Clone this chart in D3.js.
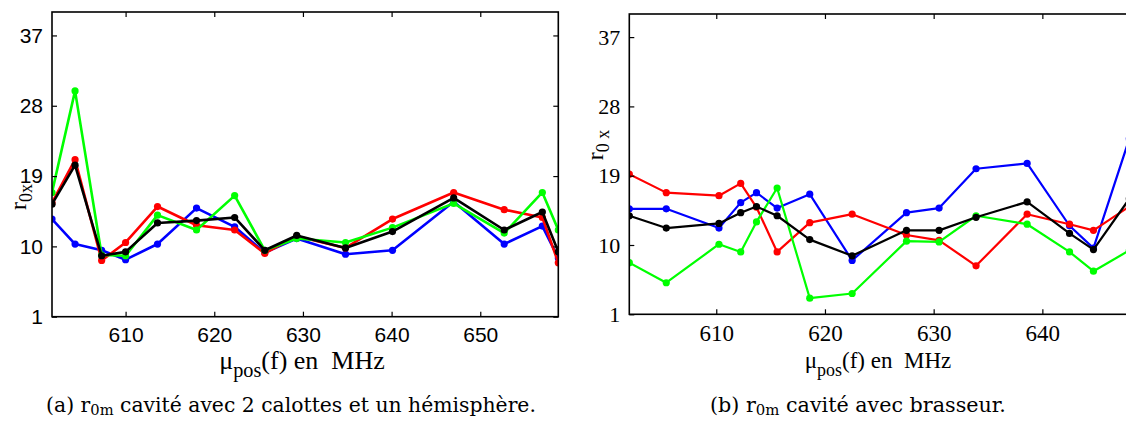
<!DOCTYPE html>
<html><head><meta charset="utf-8">
<script src="https://cdn.jsdelivr.net/npm/d3@7"></script>
<style>body{margin:0;background:#fff;overflow:hidden}svg{display:block}</style>
</head><body>
<svg id="c" width="1126" height="427"></svg>
<script>
// ---- data: panel (a) ----
const freqA = [601.7,604.3,607.3,610.0,613.6,618.0,622.3,625.7,629.3,634.8,640.1,647.0,652.7,657.0,658.8];
const blueA  = [13.5,10.3,9.5,8.3,10.3,14.9,12.5,9.2,11.0,9.0,9.5,15.7,10.3,12.6,8.5];
const redA   = [15.6,21.1,8.2,10.5,15.1,12.7,12.1,9.1,11.3,9.8,13.5,16.9,14.7,13.7,7.9];
const greenA = [16.9,29.9,8.9,8.8,14.0,12.1,16.5,9.5,11.0,10.5,12.4,15.5,11.7,16.9,12.1];
const blackA = [15.4,20.4,8.8,9.3,13.0,13.3,13.7,9.5,11.4,9.8,11.9,16.2,12.1,14.4,9.3];
// ---- data: panel (b) ----
const freqB = [602.0,605.4,610.25,612.25,613.7,615.6,618.6,622.5,627.5,630.5,633.9,638.6,642.5,644.7,648.0];
const blueB  = [14.7,14.7,12.2,15.5,16.8,14.8,16.6,8.0,14.2,14.8,19.9,20.6,12.5,9.6,23.8];
const redB   = [19.2,16.8,16.4,18.0,14.9,9.1,12.9,14.0,11.3,10.6,7.3,14.0,12.7,11.9,15.0];
const greenB = [7.7,5.1,10.1,9.1,13.0,17.4,3.1,3.7,10.5,10.4,13.8,12.7,9.1,6.6,9.3];
const blackB = [13.8,12.2,12.8,14.2,15.0,13.8,10.7,8.6,11.9,11.9,13.6,15.6,11.5,9.4,16.0];
// ---- ticks ----
const yTicks = [1,10,19,28,37];
const xTicksA = [610,620,630,640,650];
const xTicksB = [610,620,630,640];

const SERIF = "'Liberation Serif','Times New Roman',Times,serif";
const CAPF = "'DejaVu Serif','Liberation Serif',serif";
const SANS = "'Liberation Sans',Arial,Helvetica,sans-serif";
const svg = d3.select("#c");

function panel(o){
  const g = svg.append("g");
  const x = d3.scaleLinear().domain(o.xdom).range([o.left,o.right]);
  const y = d3.scaleLinear().domain([1,40]).range([o.bottom,o.top]);
  const clipId = "clip"+o.id;
  g.append("clipPath").attr("id",clipId).append("rect")
    .attr("x",o.left).attr("y",o.top).attr("width",o.right-o.left).attr("height",o.bottom-o.top);
  const line = d3.line().x(d=>x(d[0])).y(d=>y(d[1]));
  const pg = g.append("g").attr("clip-path",`url(#${clipId})`);
  o.series.forEach(s=>{
    const pts = o.freq.map((f,i)=>[f,s.v[i]]);
    pg.append("path").attr("d",line(pts)).attr("fill","none")
      .attr("stroke",s.c).attr("stroke-width",o.lw).attr("stroke-linejoin","round");
    pg.selectAll(null).data(pts).enter().append("circle")
      .attr("cx",d=>x(d[0])).attr("cy",d=>y(d[1])).attr("r",o.mr).attr("fill",s.c);
  });
  const tl = 5;
  g.append("g").attr("transform",`translate(0,${o.bottom})`)
    .call(d3.axisBottom(x).tickValues(o.xt).tickSizeInner(-tl).tickSizeOuter(0).tickPadding(o.xpad))
    .call(a=>{a.select(".domain").remove();a.selectAll("text").style("font-family",o.font).style("font-size",o.xfs+"px").attr("fill","#000");});
  g.append("g").attr("transform",`translate(0,${o.top})`)
    .call(d3.axisTop(x).tickValues(o.xt).tickSizeInner(-tl).tickSizeOuter(0).tickFormat(""))
    .call(a=>a.select(".domain").remove());
  g.append("g").attr("transform",`translate(${o.left},0)`)
    .call(d3.axisLeft(y).tickValues(yTicks).tickSizeInner(-tl).tickSizeOuter(0).tickPadding(o.ypad))
    .call(a=>{a.select(".domain").remove();a.selectAll("text").style("font-family",o.font).style("font-size",o.yfs+"px").attr("fill","#000");});
  g.append("g").attr("transform",`translate(${o.right},0)`)
    .call(d3.axisRight(y).tickValues(yTicks).tickSizeInner(-tl).tickSizeOuter(0).tickFormat(""))
    .call(a=>a.select(".domain").remove());
  g.selectAll(".tick line").attr("stroke","#000").attr("stroke-width",1.2);
  g.append("rect").attr("x",o.left).attr("y",o.top).attr("width",o.right-o.left).attr("height",o.bottom-o.top)
    .attr("fill","none").attr("stroke","#000").attr("stroke-width",1.6);
  // x label
  const xl = g.append("text").attr("x",o.xlx).attr("y",o.xly).attr("text-anchor","middle")
    .style("font-family",SERIF).style("font-size",o.xlfs+"px");
  xl.append("tspan").text("μ");
  xl.append("tspan").attr("dy",8).style("font-size",(o.xlfs*0.78)+"px").text("pos");
  xl.append("tspan").attr("dy",-8).text("(f) en\u00a0\u00a0MHz");
  // y label
  const yl = g.append("text").attr("transform",`translate(${o.ylx},${o.yly}) rotate(-90)`)
    .attr("text-anchor","middle").style("font-family",SERIF).style("font-size","24px");
  yl.append("tspan").text("r");
  yl.append("tspan").attr("dy",6).style("font-size","18px").text(o.ysub);
  // caption (font size fitted to measured width)
  const cp = g.append("text").attr("x",o.capx).attr("y",412).attr("text-anchor","middle")
    .style("font-family",CAPF).style("font-size","18px");
  const t1 = cp.append("tspan").text(o.capA+" r");
  const t2 = cp.append("tspan").attr("dy",3).style("font-size","13px").text("0m");
  const t3 = cp.append("tspan").attr("dy",-3).text(" "+o.capB);
  const w = cp.node().getBBox().width;
  if (w > 0) {
    const k = o.capw / w;
    cp.style("font-size",(18*k).toFixed(2)+"px");
    t2.style("font-size",(13*k).toFixed(2)+"px");
  }
}

const cols = ["#0000ff","#ff0000","#00ff00","#000000"];
panel({id:"a", left:52, right:558.3, top:12, bottom:316.7, xdom:[601.7,658.8], freq:freqA,
  series:[{c:cols[0],v:blueA},{c:cols[1],v:redA},{c:cols[2],v:greenA},{c:cols[3],v:blackA}],
  xt:xTicksA, font:SANS, xfs:21, yfs:21, xpad:10, ypad:9, lw:2.6, mr:3.6,
  xlx:302, xly:369, xlfs:26, ylx:26, yly:197, ysub:"0x",
  capx:291, capw:490, capA:"(a)", capB:"cavité avec 2 calottes et un hémisphère."});
panel({id:"b", left:629.3, right:629.3+48*10.87, top:14, bottom:314.3, xdom:[602,650], freq:freqB,
  series:[{c:cols[0],v:blueB},{c:cols[1],v:redB},{c:cols[2],v:greenB},{c:cols[3],v:blackB}],
  xt:xTicksB, font:SERIF, xfs:23, yfs:22, xpad:10, ypad:9, lw:2.2, mr:3.6,
  xlx:878, xly:368, xlfs:23, ylx:603, yly:145, ysub:"0 x",
  capx:858, capw:296, capA:"(b)", capB:"cavité avec brasseur."});
</script>
</body></html>
